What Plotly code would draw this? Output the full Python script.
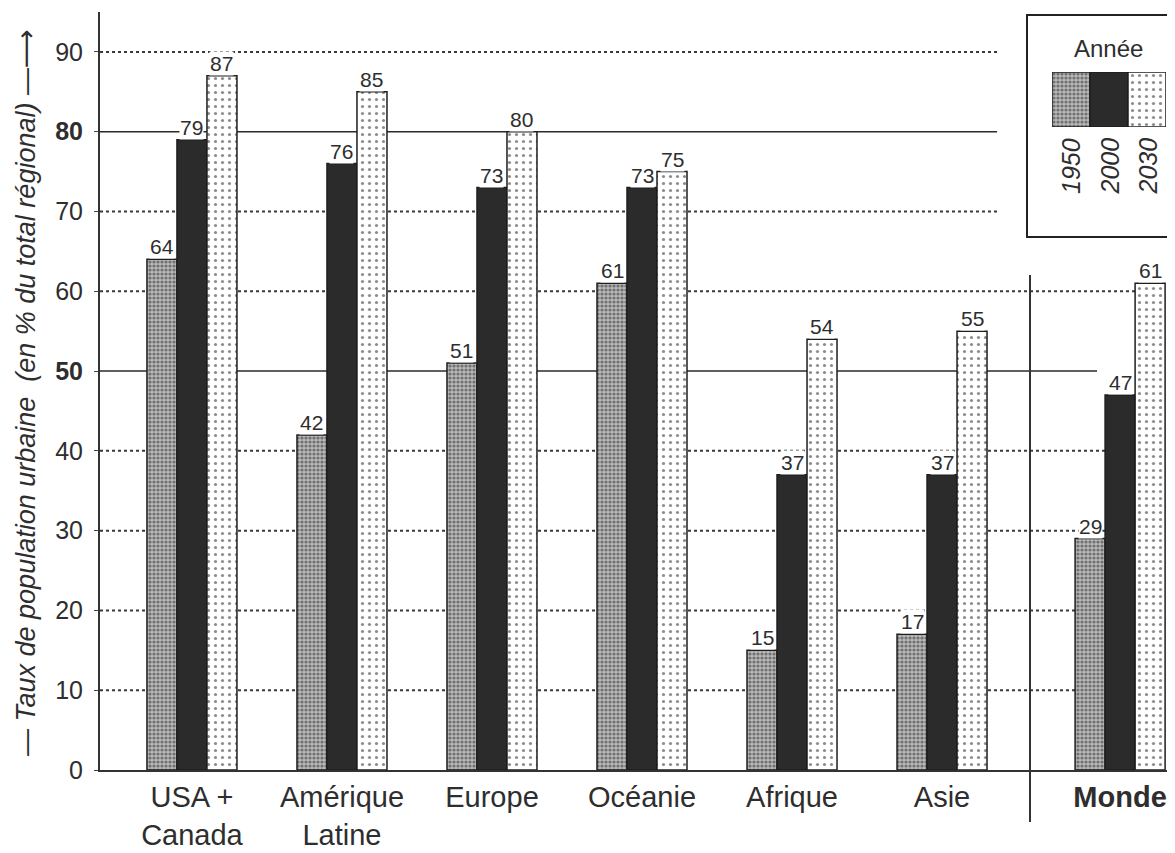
import plotly.graph_objects as go

regions = ["USA +<br>Canada", "Amérique<br>Latine", "Europe", "Océanie", "Afrique", "Asie", "<b>Monde</b>"]
years = ["1950", "2000", "2030"]
v1950 = [64, 42, 51, 61, 15, 17, 29]
v2000 = [79, 76, 73, 73, 37, 37, 47]
v2030 = [87, 85, 80, 75, 54, 55, 61]
yticks = [0, 10, 20, 30, 40, 50, 60, 70, 80, 90]

# layout positions (Monde set apart)
xpos = [0, 1, 2, 3, 4, 5, 6.187]

TXT = "#2e2e2e"
FONT = "Liberation Sans, Arial, sans-serif"

styles = [
    dict(color="#b0b0b0", pattern=dict(shape=".", fgcolor="#2a2a2a", bgcolor="#b8b8b8", size=4, solidity=0.5)),
    dict(color="#2b2b2b"),
    dict(color="white", pattern=dict(shape=".", fgcolor="#1a1a1a", bgcolor="white", size=7, solidity=0.16)),
]
series = [v1950, v2000, v2030]
bw = 0.2
offsets = [-bw, 0, bw]

# page-pixel helpers (plot area: x 100..1175, y 12..770)
def px(x):
    return (x - 100) / 1075

def py(y):
    return (770 - y) / 758

fig = go.Figure()
for i, (yr, vals, st) in enumerate(zip(years, series, styles)):
    fig.add_trace(go.Bar(
        x=[p + offsets[i] for p in xpos], y=vals, width=bw, name=yr,
        marker=dict(line=dict(color="#1e1e1e", width=1.5), **st),
        showlegend=False, hoverinfo="y",
    ))
    for p, v in zip(xpos, vals):
        fig.add_annotation(x=p + offsets[i], y=v, text=str(v), showarrow=False,
                           yanchor="bottom", yshift=0, bgcolor="white",
                           font=dict(family=FONT, size=21, color=TXT), borderpad=0)

# gridlines
for t in yticks[1:]:
    solid = t in (50, 80)
    xend = 1.0
    if t >= 65:
        xend = px(997)
    if t == 50:
        xend = px(1097)
    fig.add_shape(type="line", xref="paper", yref="y", x0=0, x1=xend, y0=t, y1=t,
                  layer="below",
                  line=dict(color="#2a2a2a" if solid else "#3a3a3a", width=1.5 if solid else 2,
                            dash="solid" if solid else "dot"))

# separator before Monde
fig.add_shape(type="line", xref="paper", yref="paper", x0=px(1030), x1=px(1030),
              y0=py(822), y1=py(275), line=dict(color="#333333", width=2))

# legend box
fig.add_shape(type="rect", xref="paper", yref="paper",
              x0=px(1027), x1=px(1185), y0=py(237), y1=py(15),
              fillcolor="white", line=dict(color="#222222", width=2), layer="between")
fig.add_annotation(xref="paper", yref="paper", x=px(1108), y=py(48),
                   text="Année", showarrow=False, xanchor="center", yanchor="middle",
                   font=dict(family=FONT, size=24, color=TXT))
# legend swatches on overlay axes
for i, (yr, st) in enumerate(zip(years, styles)):
    fig.add_trace(go.Bar(
        x=[i], y=[1], width=1, xaxis="x2", yaxis="y2", showlegend=False, hoverinfo="skip",
        marker=dict(line=dict(color="#1e1e1e", width=1.5), **st),
    ))
    fig.add_annotation(xref="x2", yref="paper", x=i, y=py(136), text="<i>" + yr + "</i>",
                       textangle=-90, showarrow=False, yanchor="top", xanchor="center",
                       font=dict(family=FONT, size=25, color=TXT))

fig.update_layout(
    width=1167, height=845,
    margin=dict(l=92, r=0, t=4, b=83, autoexpand=False),
    paper_bgcolor="white", plot_bgcolor="white",
    barmode="overlay",
    font=dict(family=FONT, color=TXT),
    xaxis=dict(range=[-0.613, 6.553], tickvals=xpos, ticktext=regions, showgrid=False,
               zeroline=False, showline=True, linecolor="#333333", linewidth=2,
               ticks="", automargin=False, tickfont=dict(size=29, color=TXT, family=FONT)),
    yaxis=dict(range=[0, 95], tickvals=yticks,
               ticktext=["<b>%d</b>" % t if t in (50, 80) else str(t) for t in yticks],
               showgrid=False, zeroline=False, showline=True, linecolor="#333333", linewidth=2,
               ticks="outside", ticklen=4, tickcolor="#444444", automargin=False,
               ticklabelstandoff=6,
               tickfont=dict(size=25, color=TXT, family=FONT)),
    xaxis2=dict(domain=[px(1052), px(1166)], range=[-0.5, 2.5], visible=False,
                anchor="y2", fixedrange=True),
    yaxis2=dict(domain=[py(127), py(72)], range=[0, 1], visible=False,
                anchor="x2", fixedrange=True),
    showlegend=False,
)

fig.add_annotation(xref="paper", yref="paper", x=px(26), y=py(393),
                   text="<i>— Taux de population urbaine  (en % du total régional) —⟶</i>",
                   textangle=-90, showarrow=False, xanchor="center", yanchor="middle",
                   font=dict(family="Liberation Sans Narrow, Liberation Sans, DejaVu Sans, sans-serif", size=27, color=TXT))

fig.write_html("out.html")
